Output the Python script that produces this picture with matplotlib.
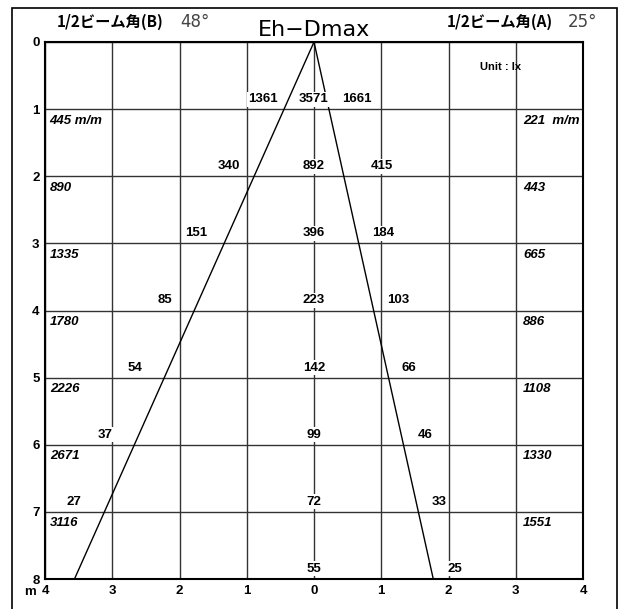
import numpy as np
import matplotlib
matplotlib.use('Agg')
import matplotlib.pyplot as plt
from matplotlib.patches import Rectangle

plt.rcParams['font.family'] = ['Liberation Sans', 'Noto Sans CJK JP', 'DejaVu Sans']

# data
rows = [1, 2, 3, 4, 5, 6, 7, 8]
center_lx = [3571, 892, 396, 223, 142, 99, 72, 55]
left_lx = [1361, 340, 151, 85, 54, 37, 27]
right_lx = [1661, 415, 184, 103, 66, 46, 33, 25]
diam_b = [445, 890, 1335, 1780, 2226, 2671, 3116]
diam_a = [221, 443, 665, 886, 1108, 1330, 1551]
angle_b = 48
angle_a = 25

# label x positions (layout only)
left_pos = [-0.76, -1.26, -1.75, -2.22, -2.66, -3.11, -3.57]
right_pos = [0.64, 1.01, 1.03, 1.25, 1.41, 1.65, 1.86, 2.10]

fig = plt.figure(figsize=(6.3, 6.09), dpi=100)
# outer frame
fig.patches.append(Rectangle((12 / 630, -0.01), 605 / 630, 1 - 8 / 609 + 0.01,
                             transform=fig.transFigure, fill=False,
                             edgecolor='black', lw=1.2))

ax = fig.add_axes([45 / 630, 1 - 579 / 609, 538 / 630, 537 / 609])
ax.set_xlim(-4, 4)
ax.set_ylim(8, 0)

xt = np.arange(-4, 5)
ax.set_xticks(xt)
ax.set_xticklabels([str(abs(v)) for v in xt], fontweight='bold', fontsize=9.5)
ax.set_yticks(np.arange(0, 9))
ax.set_yticklabels([str(v) for v in range(9)], fontweight='bold', fontsize=9.5)
ax.tick_params(length=0, pad=4)
ax.grid(True, color='#333333', lw=1)
ax.set_axisbelow(True)
for s in ax.spines.values():
    s.set_linewidth(1.5)

# beam edges
yb = 8
ax.plot([0, -yb * np.tan(np.radians(angle_b / 2))], [0, yb], color='black', lw=1, zorder=3)
ax.plot([0, yb * np.tan(np.radians(angle_a / 2))], [0, yb], color='black', lw=1, zorder=3)

box = dict(facecolor='white', edgecolor='none', pad=1)
fs = 9.5
for r, v in zip(rows, center_lx):
    ax.text(0, r - 0.15, str(v), ha='center', va='center', fontsize=fs,
            fontweight='bold', bbox=box, zorder=4)
for r, v, x in zip(rows, left_lx, left_pos):
    ax.text(x, r - 0.15, str(v), ha='center', va='center', fontsize=fs,
            fontweight='bold', bbox=box, zorder=4)
for r, v, x in zip(rows, right_lx, right_pos):
    ax.text(x, r - 0.15, str(v), ha='center', va='center', fontsize=fs,
            fontweight='bold', bbox=box, zorder=4)

for i, (r, v) in enumerate(zip(rows, diam_b)):
    s = f'{v} m/m' if i == 0 else str(v)
    ax.text(-3.93, r + 0.17, s, ha='left', va='center', fontsize=fs,
            fontweight='bold', style='italic', zorder=4)
for i, (r, v) in enumerate(zip(rows, diam_a)):
    s = f'{v}  m/m' if i == 0 else str(v)
    ax.text(3.11, r + 0.17, s, ha='left', va='center', fontsize=fs,
            fontweight='bold', style='italic', zorder=4)

ax.text(2.77, 0.37, 'Unit : lx', ha='center', va='center', fontsize=8,
        fontweight='bold', zorder=4)

# header texts
fig.text(314 / 630, 1 - 30 / 609, 'Eh−Dmax', ha='center', va='center',
         fontsize=16, family='DejaVu Sans')
fig.text(57 / 630, 1 - 22 / 609, '1/2ビーム角(B)', ha='left', va='center',
         fontsize=11, fontweight='bold', family=['Noto Sans CJK JP'])
fig.text(180 / 630, 1 - 22 / 609, f'{angle_b}°', ha='left', va='center',
         fontsize=12, color='#444444', family='DejaVu Sans')
fig.text(447 / 630, 1 - 22 / 609, '1/2ビーム角(A)', ha='left', va='center',
         fontsize=11, fontweight='bold', family=['Noto Sans CJK JP'])
fig.text(568 / 630, 1 - 22 / 609, f'{angle_a}°', ha='left', va='center',
         fontsize=12, color='#444444', family='DejaVu Sans')
fig.text(30 / 630, 1 - 592 / 609, 'm', ha='center', va='center',
         fontsize=9.5, fontweight='bold')

fig.savefig('out.png', dpi=100)
